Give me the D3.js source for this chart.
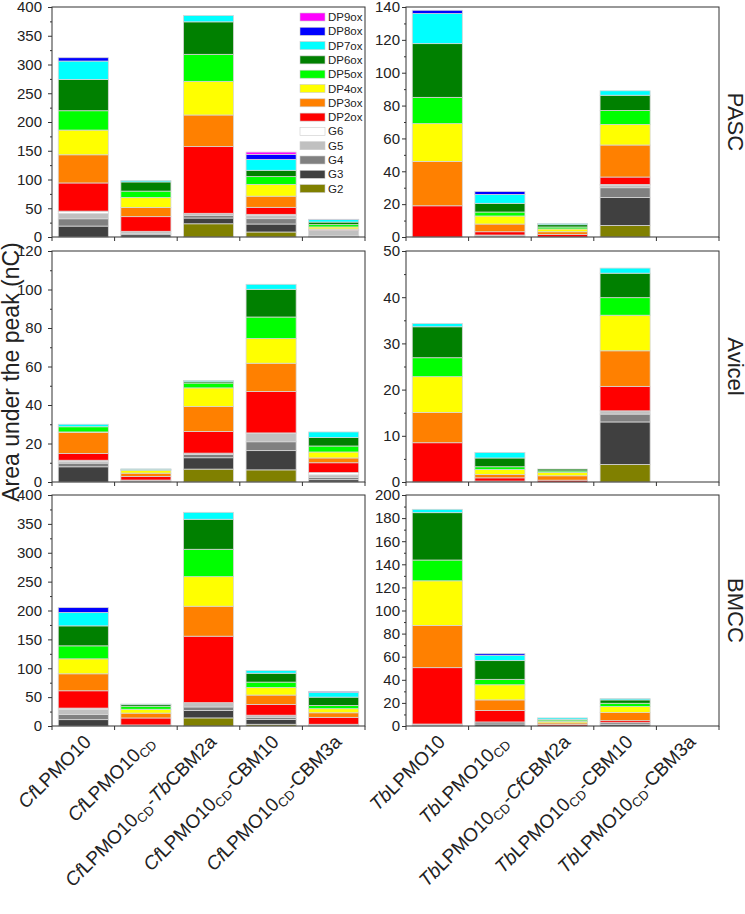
<!DOCTYPE html>
<html><head><meta charset="utf-8">
<script src="https://cdn.jsdelivr.net/npm/d3@7"></script>
<style>body{margin:0;background:#fff;} svg{display:block;font-family:Arial,"Liberation Sans",sans-serif;}</style>
</head><body><svg id="c" width="745" height="914"></svg>
<script>
// stacking order (bottom -> top)
const seriesNames = ["G2","G3","G4","G5","G6","DP2ox","DP3ox","DP4ox","DP5ox","DP6ox","DP7ox","DP8ox","DP9ox"];
const seriesColors = ["#808000","#404040","#808080","#c0c0c0","#ffffff","#ff0000","#ff8000","#ffff00","#00ff00","#008000","#00ffff","#0000ff","#ff00ff"];
// *x* = italic, _x_ = subscript
const cfCategories = ["*Cf*LPMO10","*Cf*LPMO10_CD_","*Cf*LPMO10_CD_-*Tb*CBM2a","*Cf*LPMO10_CD_-CBM10","*Cf*LPMO10_CD_-CBM3a"];
const tbCategories = ["*Tb*LPMO10","*Tb*LPMO10_CD_","*Tb*LPMO10_CD_-*Cf*CBM2a","*Tb*LPMO10_CD_-CBM10","*Tb*LPMO10_CD_-CBM3a"];
const substrates = ["PASC","Avicel","BMCC"];
const yLabel = "Area under the peak (nC)";

// each row = one bar, values in seriesNames order
const pascCf = [
  [0,19,12.7,9.3,4,49,49,43,33.6,54.4,32,5.8,0],
  [0,4,2.4,3.5,0,25.5,16,17.4,11,16,2.4,0,0],
  [23,10,4.7,3.5,0,116,55,58.5,47,56.5,11,0,0],
  [8.7,13.9,9.3,5.8,1.7,12.2,19.4,20.5,13.5,11,19,8.7,4],
  [0,1.5,0.5,10,0,0.5,1.5,3.5,4,4.5,4.5,0.3,0]
];
const pascTb = [
  [0,0,0,0,0,19,27,23,16,32.7,18.3,2,0],
  [0,0.6,0.6,0,0,2,4.7,4.9,2.4,5.3,5.4,1.8,0],
  [0,0,0,0,0,1.6,1.6,1.7,1.2,1.4,0.7,0,0],
  [7,17,6,1.6,0.4,4.5,19.5,12.5,8.5,9.3,2.7,0,0],
  [0,0,0,0,0,0,0,0,0,0,0,0,0]
];
const avicelCf = [
  [0,7.9,1.9,0.8,0.7,3.5,10.9,0.3,2.7,0,1.3,0,0],
  [0,0.5,0.5,0,0,1.9,1.7,1.5,0.3,0.2,0.2,0,0],
  [6.7,5.9,1.7,0.7,0,11.2,13,9.7,2.5,0.7,0.6,0,0],
  [6.3,10,4.6,4.5,0.1,21.5,14.7,12.8,11.2,14.4,2.6,0,0],
  [0,1.2,1.1,1.4,1.2,5.1,2.5,3.1,3.1,4.4,2.9,0,0]
];
const avicelTb = [
  [0,0,0,0,0,8.5,6.55,7.75,4.1,6.7,0.7,0,0],
  [0,0,0.2,0,0,0.7,0.7,1.1,0.6,1.9,1.2,0,0],
  [0,0,0,0,0,0.4,0.95,0.75,0.3,0.4,0,0,0],
  [3.8,9.2,1.7,0.7,0,5.3,7.7,7.7,3.8,5.3,1.1,0,0],
  [0,0,0,0,0,0,0,0,0,0,0,0,0]
];
const bmccCf = [
  [0,11,9,9,2,30,29.4,25.9,22.5,34.6,23.1,8.5,0],
  [0,1,0.8,0,0,12.1,8.4,6.7,5.3,3,0.7,0,0],
  [14,13,6,7.4,0,115.1,51.9,51.2,47.4,52,12,0,0],
  [3,8.4,3.6,3.7,0,18.6,16.3,13.1,9.3,15.4,4.6,0,0],
  [0,1.5,0,1.5,0,12,7.9,7.1,5.5,14.5,8.4,1.6,0]
];
const bmccTb = [
  [0,0,0.8,0.9,0,48.8,36.6,38.6,18,41,2.9,0,0],
  [0,1.7,1.8,0,0,9.9,9.2,13.1,4.7,16.2,4.7,1.4,0],
  [0,0,0,0,0,1.2,1.5,1.3,1.2,0.6,1.2,0,0],
  [0,1.5,1.4,0,0,1.7,7,5.2,2.9,2.9,1.1,0,0],
  [0,0,0,0,0,0,0,0,0,0,0,0,0]
];
// y axis settings: [max, major step, minor step]
const yAxisCf = [[400,50,25],[120,20,10],[400,50,25]];
const yAxisTb = [[140,20,10],[50,10,5],[200,20,10]];

const svg = d3.select("#c");
const cols = [{x0:52,x1:365,cats:cfCategories,data:[pascCf,avicelCf,bmccCf],axes:yAxisCf,pad:6},
              {x0:406,x1:719,cats:tbCategories,data:[pascTb,avicelTb,bmccTb],axes:yAxisTb,pad:2}];
const rows = [{y0:7,y1:237},{y0:251,y1:482},{y0:495,y1:726}];

const color = d3.scaleOrdinal().domain(seriesNames).range(seriesColors);
const stack = d3.stack().keys(seriesNames);

cols.forEach((col,ci)=>{
  const x = d3.scaleBand().domain(d3.range(5)).range([col.x0,col.x1]).paddingInner(0.2).paddingOuter(0.1);
  rows.forEach((row,ri)=>{
    const [ymax,major,minor] = col.axes[ri];
    const y = d3.scaleLinear().domain([0,ymax]).range([row.y1,row.y0]);
    const g = svg.append("g");
    const objs = col.data[ri].map((vals,i)=>{const o={idx:i}; seriesNames.forEach((s,k)=>o[s]=vals[k]); return o;});
    const layers = stack(objs);
    g.selectAll("g.layer").data(layers).join("g").attr("fill",d=>color(d.key))
      .selectAll("rect").data(d=>d.filter(p=>p[1]-p[0]>0)).join("rect")
      .attr("x",d=>x(d.data.idx)).attr("width",x.bandwidth())
      .attr("y",d=>y(d[1])).attr("height",d=>y(d[0])-y(d[1]))
      .attr("stroke","#d6d6d6").attr("stroke-width",0.8);
    // frame
    g.append("rect").attr("x",col.x0).attr("y",row.y0).attr("width",col.x1-col.x0).attr("height",row.y1-row.y0)
      .attr("fill","none").attr("stroke","#333").attr("stroke-width",1);
    // y axis major
    const ya = g.append("g").attr("transform",`translate(${col.x0},0)`)
      .call(d3.axisLeft(y).tickValues(d3.range(0,ymax+0.001,major)).tickSize(4).tickPadding(col.pad).tickFormat(d3.format("d")));
    ya.select(".domain").remove();
    ya.selectAll("text").attr("font-size",15).attr("fill","#222").attr("font-family","Arial, 'Liberation Sans', sans-serif");
    ya.selectAll("line").attr("stroke","#333");
    const ym = g.append("g").attr("transform",`translate(${col.x0},0)`)
      .call(d3.axisLeft(y).tickValues(d3.range(0,ymax+0.001,minor).filter(v=>v%major!==0)).tickSize(2).tickFormat(""));
    ym.select(".domain").remove();
    ym.selectAll("line").attr("stroke","#333");
    // x ticks at band boundaries
    const step = x.step();
    const bounds = d3.range(6).map(i=>col.x0+i*step);
    g.selectAll("line.xt").data(bounds).join("line")
      .attr("x1",d=>d).attr("x2",d=>d).attr("y1",row.y1).attr("y2",row.y1+4).attr("stroke","#333");
    // substrate label at right
    if(ci===1){
      svg.append("text").attr("transform",`translate(728,${(row.y0+row.y1)/2}) rotate(90)`)
        .attr("text-anchor","middle").attr("font-size",22).attr("fill","#222").text(substrates[ri]);
    }
    if(ri===2){
      col.cats.forEach((lab,i)=>{
        const cx = x(i)+x.bandwidth()/2;
        const t = svg.append("text").attr("transform",`translate(${cx+9},${row.y1+17}) rotate(-45)`)
          .attr("text-anchor","end").attr("font-size",19).attr("fill","#222");
        const parts = lab.split(/(\*[^*]+\*|_[^_]+_)/).filter(s=>s.length);
        let sub=false;
        parts.forEach(p=>{
          if(p.startsWith("*")){ t.append("tspan").attr("font-style","italic").attr("dy",sub?-4:0).text(p.slice(1,-1)); sub=false; }
          else if(p.startsWith("_")){ t.append("tspan").attr("font-size",13).attr("dy",4).text(p.slice(1,-1)); sub=true; }
          else { t.append("tspan").attr("dy",sub?-4:0).text(p); sub=false; }
        });
      });
    }
  });
});

// legend (top-left panel)
const legendOrder = seriesNames.slice().reverse();
const lg = svg.append("g");
legendOrder.forEach((s,i)=>{
  const cy = 17 + i*14.3;
  lg.append("rect").attr("x",300).attr("y",cy-4).attr("width",25).attr("height",8)
    .attr("fill",color(s)).attr("stroke","#ccc").attr("stroke-width",0.6);
  lg.append("text").attr("x",328).attr("y",cy+4).attr("font-size",11.5).attr("fill","#222").text(s);
});

// y title
svg.append("text").attr("transform","translate(19,372) rotate(-90)").attr("text-anchor","middle")
  .attr("font-size",23).attr("fill","#222").text(yLabel);
</script></body></html>
